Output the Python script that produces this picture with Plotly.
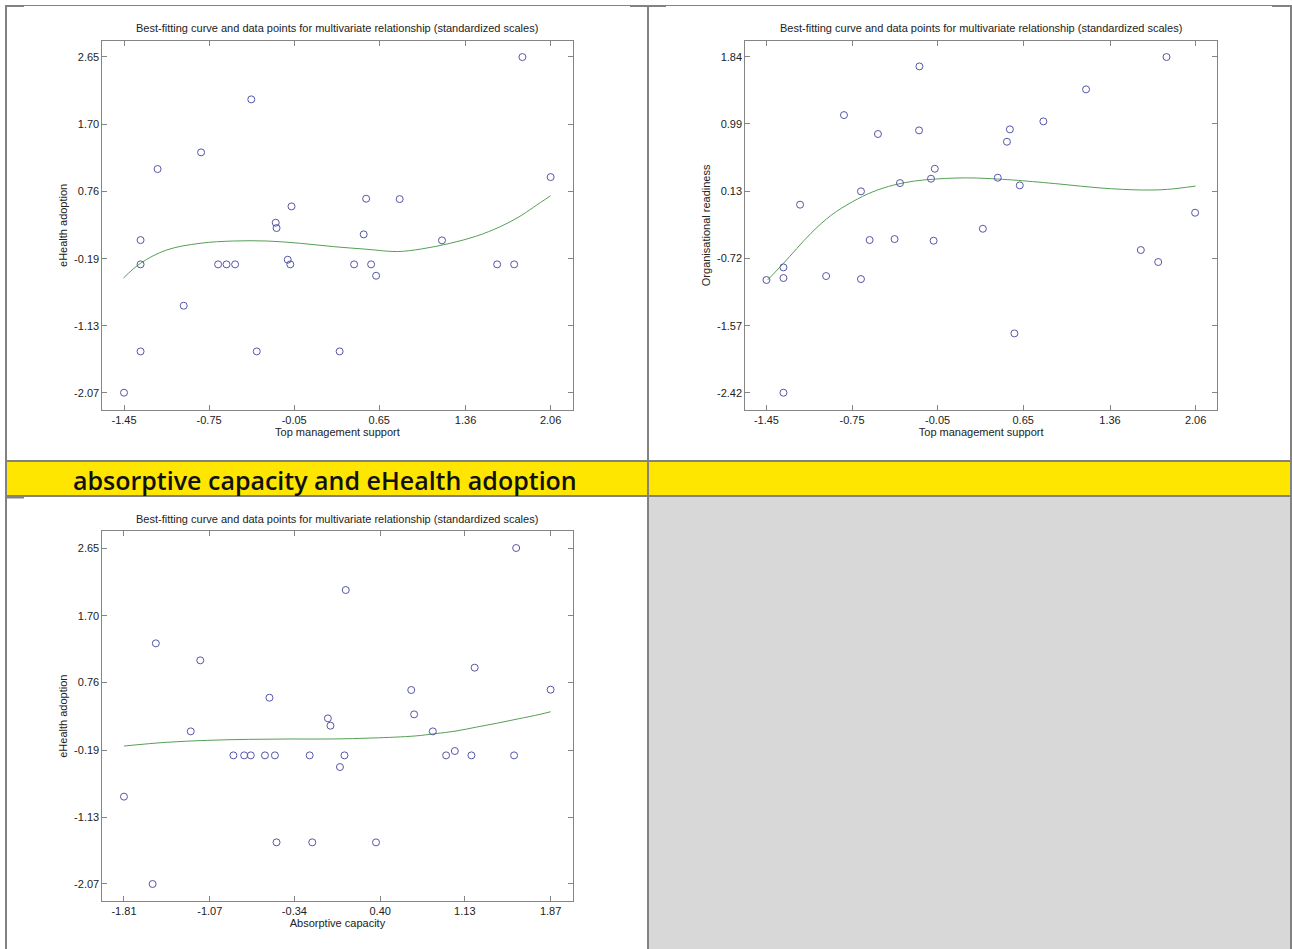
import plotly.graph_objects as go

W, H = 1292, 949

# ---------------- data ----------------
title_text = "Best-fitting curve and data points for multivariate relationship (standardized scales)"
band_text = "absorptive capacity and eHealth adoption"

# Panel 1: Top management support vs eHealth adoption
p1_x = [-1.45, -1.314, -1.314, -1.314, -1.174, -0.959, -0.816, -0.676, -0.607, -0.536,
        -0.403, -0.358, -0.202, -0.195, -0.103, -0.082, -0.072, 0.324, 0.443, 0.522,
        0.542, 0.583, 0.624, 0.818, 1.166, 1.620, 1.760, 1.828, 2.06]
p1_y = [-2.07, 0.074, -0.267, -1.49, 1.072, -0.848, 1.306, -0.267, -0.267, -0.267,
        2.051, -1.49, 0.318, 0.243, -0.202, -0.267, 0.547, -1.49, -0.267, 0.154,
        0.655, -0.267, -0.427, 0.650, 0.070, -0.267, -0.267, 2.645, 0.959]
c1_x = [-1.455, -1.313, -1.099, -0.824, -0.55, -0.275, 0.0, 0.273, 0.548, 0.80,
        1.0, 1.233, 1.45, 1.645, 1.8, 1.919, 2.06]
c1_y = [-0.46, -0.25, -0.065, 0.029, 0.061, 0.061, 0.029, -0.018, -0.055, -0.087,
        -0.05, 0.029, 0.13, 0.262, 0.40, 0.535, 0.698]
x1_ticks = [-1.45, -0.75, -0.05, 0.65, 1.36, 2.06]
y1_ticks = [-2.07, -1.13, -0.19, 0.76, 1.70, 2.65]

# Panel 2: Top management support vs Organisational readiness
p2_x = [-1.45, -1.311, -1.311, -1.311, -1.175, -0.962, -0.816, -0.677, -0.677, -0.606,
        -0.538, -0.402, -0.358, -0.202, -0.199, -0.104, -0.083, -0.073, 0.32, 0.442,
        0.517, 0.541, 0.578, 0.622, 0.815, 1.164, 1.612, 1.754, 1.822, 2.056]
p2_y = [-0.991, -0.831, -0.966, -2.42, -0.036, -0.941, 1.10, 0.133, -0.979, -0.484,
        0.86, -0.472, 0.238, 0.906, 1.717, 0.293, -0.493, 0.42, -0.341, 0.306,
        0.762, 0.919, -1.668, 0.209, 1.02, 1.426, -0.611, -0.763, 1.836, -0.138]
c2_x = [-1.44, -1.311, -1.087, -0.918, -0.748, -0.579, -0.409, -0.239, -0.07, 0.10,
        0.269, 0.439, 0.608, 0.947, 1.287, 1.626, 1.829, 2.06]
c2_y = [-0.99, -0.78, -0.40, -0.167, 0.0, 0.128, 0.213, 0.264, 0.289, 0.302,
        0.302, 0.289, 0.272, 0.226, 0.175, 0.15, 0.158, 0.20]
x2_ticks = [-1.45, -0.75, -0.05, 0.65, 1.36, 2.06]
y2_ticks = [-2.42, -1.57, -0.72, 0.13, 0.99, 1.84]

# Panel 3: Absorptive capacity vs eHealth adoption
p3_x = [-1.81, -1.563, -1.535, -1.234, -1.152, -0.866, -0.773, -0.716, -0.594, -0.555,
        -0.508, -0.494, -0.208, -0.186, -0.051, -0.029, 0.053, 0.092, 0.103, 0.364,
        0.668, 0.693, 0.854, 0.969, 1.044, 1.187, 1.215, 1.555, 1.573, 1.87]
p3_y = [-0.843, -2.07, 1.311, 0.074, 1.072, -0.263, -0.263, -0.263, -0.263, 0.547,
        -0.263, -1.485, -0.263, -1.485, 0.257, 0.154, -0.427, -0.263, 2.06, -1.485,
        0.655, 0.313, 0.074, -0.263, -0.202, -0.263, 0.969, -0.263, 2.65, 0.66]
c3_x = [-1.81, -1.449, -1.091, -0.734, -0.376, -0.018, 0.339, 0.697, 0.876, 1.054,
        1.233, 1.412, 1.591, 1.77, 1.87]
c3_y = [-0.132, -0.08, -0.052, -0.038, -0.033, -0.033, -0.019, 0.009, 0.042, 0.079,
        0.135, 0.19, 0.25, 0.31, 0.35]
x3_ticks = [-1.81, -1.07, -0.34, 0.40, 1.13, 1.87]
y3_ticks = [-2.07, -1.13, -0.19, 0.76, 1.70, 2.65]

panels = [
    dict(px=p1_x, py=p1_y, cx=c1_x, cy=c1_y, xt=x1_ticks, yt=y1_ticks,
         xlab="Top management support", ylab="eHealth adoption",
         xr=[-1.628, 2.240], yr=[-2.313, 2.875],
         dom_x=(102.4, 572.5), dom_y=(40.7, 410.0), title_y=28),
    dict(px=p2_x, py=p2_y, cx=c2_x, cy=c2_y, xt=x2_ticks, yt=y2_ticks,
         xlab="Top management support", ylab="Organisational readiness",
         xr=[-1.623, 2.235], yr=[-2.639, 2.043],
         dom_x=(745.3, 1217.0), dom_y=(40.7, 410.0), title_y=28),
    dict(px=p3_x, py=p3_y, cx=c3_x, cy=c3_y, xt=x3_ticks, yt=y3_ticks,
         xlab="Absorptive capacity", ylab="eHealth adoption",
         xr=[-1.996, 2.059], yr=[-2.309, 2.885],
         dom_x=(102.4, 572.5), dom_y=(531.3, 901.0), title_y=519),
]


def fx(x):
    return x / W


def fy(y):
    return 1 - y / H


fig = go.Figure()
FONT = "Liberation Sans, Arial, sans-serif"
AXC = "#858585"
annotations = []
shapes = []

for i, p in enumerate(panels, start=1):
    sfx = "" if i == 1 else str(i)
    fig.add_trace(go.Scatter(
        x=p["cx"], y=p["cy"], mode="lines", line=dict(color="#559f55", width=1, shape="spline"),
        xaxis="x" + sfx, yaxis="y" + sfx, showlegend=False, hoverinfo="skip"))
    fig.add_trace(go.Scatter(
        x=p["px"], y=p["py"], mode="markers",
        marker=dict(symbol="circle-open", size=7, color="#5656a8", line=dict(width=1)),
        xaxis="x" + sfx, yaxis="y" + sfx, showlegend=False))
    ax = dict(domain=[fx(p["dom_x"][0]), fx(p["dom_x"][1])], range=p["xr"],
              tickvals=p["xt"], ticktext=["%.2f" % v for v in p["xt"]],
              ticks="inside", ticklen=5, tickcolor=AXC, showline=True, linecolor=AXC,
              linewidth=1, mirror="ticks", showgrid=False, zeroline=False,
              tickfont=dict(family=FONT, size=11, color="#222"),
              title=dict(text=p["xlab"], font=dict(family=FONT, size=11, color="#222"), standoff=2),
              anchor="y" + sfx)
    ay = dict(domain=[fy(p["dom_y"][1]), fy(p["dom_y"][0])], range=p["yr"],
              tickvals=p["yt"], ticktext=["%.2f" % v for v in p["yt"]],
              ticks="inside", ticklen=5, tickcolor=AXC, showline=True, linecolor=AXC,
              linewidth=1, mirror="ticks", showgrid=False, zeroline=False,
              tickfont=dict(family=FONT, size=11, color="#222"),
              title=dict(text=p["ylab"], font=dict(family=FONT, size=11, color="#222"), standoff=4),
              anchor="x" + sfx)
    fig.layout["xaxis" + sfx] = ax
    fig.layout["yaxis" + sfx] = ay
    annotations.append(dict(
        text=title_text, xref="paper", yref="paper",
        x=fx((p["dom_x"][0] + p["dom_x"][1]) / 2), y=fy(p["title_y"]),
        xanchor="center", yanchor="middle", showarrow=False,
        font=dict(family=FONT, size=11, color="#222")))

# band text
annotations.append(dict(
    text=band_text, xref="paper", yref="paper", x=fx(71), y=fy(480),
    xanchor="left", yanchor="middle", showarrow=False,
    font=dict(family="Open Sans, sans-serif", size=25, color="#111", weight=600)))

BC = "#828282"
# fills
shapes.append(dict(type="rect", xref="paper", yref="paper", x0=fx(6), x1=fx(1291),
                   y0=fy(496), y1=fy(461), fillcolor="#FFE600", line=dict(width=0), layer="below"))
shapes.append(dict(type="rect", xref="paper", yref="paper", x0=fx(648), x1=fx(1291),
                   y0=fy(949), y1=fy(497), fillcolor="#D8D8D8", line=dict(width=0), layer="below"))


def hline(x0, x1, y, w):
    shapes.append(dict(type="line", xref="paper", yref="paper", x0=fx(x0), x1=fx(x1),
                       y0=fy(y), y1=fy(y), line=dict(color=BC, width=w)))


def vline(x, y0, y1, w):
    shapes.append(dict(type="line", xref="paper", yref="paper", x0=fx(x), x1=fx(x),
                       y0=fy(y0), y1=fy(y1), line=dict(color=BC, width=w)))


hline(5, 1292, 5.5, 1)
hline(5, 24, 6, 2)
hline(630, 666, 6, 2)
hline(1272, 1292, 6, 2)
hline(5, 1292, 461, 2)
hline(5, 1292, 496, 2)
hline(5, 24, 497.5, 2)
vline(6, 5, 949, 2)
vline(648, 5, 949, 2)
vline(1291, 5, 949, 2)

fig.update_layout(
    width=W, height=H, margin=dict(l=0, r=0, t=0, b=0),
    paper_bgcolor="white", plot_bgcolor="white",
    annotations=annotations, shapes=shapes, showlegend=False,
)

fig.write_html(
    "out.html",
    config={"displayModeBar": False},
    post_script="document.body.style.margin='0';document.body.style.overflow='hidden';",
)
